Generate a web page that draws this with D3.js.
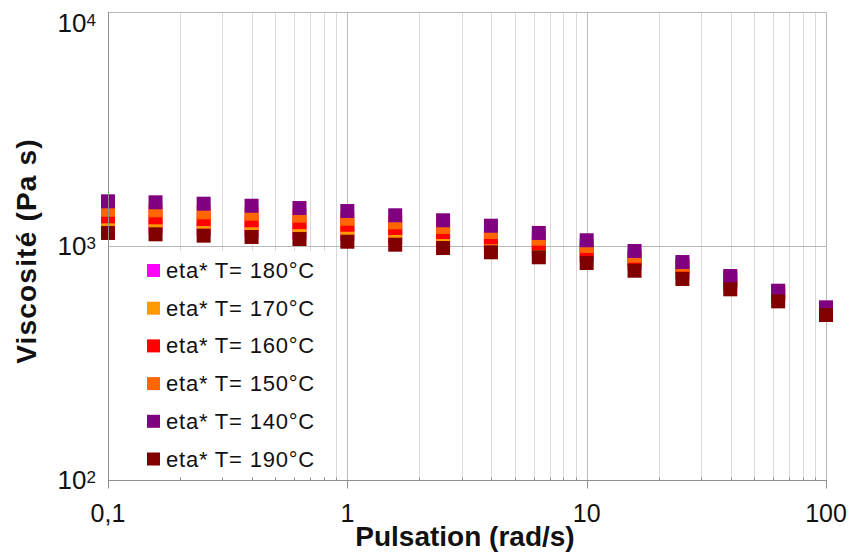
<!DOCTYPE html>
<html><head><meta charset="utf-8">
<script src="https://cdn.jsdelivr.net/npm/d3@7/dist/d3.min.js"></script>
<style>
body{margin:0;background:#fff}
svg{display:block}
text{font-family:"Liberation Sans",Arial,Helvetica,sans-serif;fill:#111}
</style>
</head><body>
<svg id="c" width="853" height="553"></svg>
<script>
// ---- data ----
const freq = [0.1, 0.158, 0.251, 0.398, 0.631, 1, 1.585, 2.512, 3.981, 6.31, 10, 15.85, 25.12, 39.81, 63.1, 100];
const eta180 = [1218, 1206, 1182, 1165, 1148, 1125, 1093, 1050, 1010, 961, 915, 846, 774, 688, 611, 522];
const eta170 = [1279, 1266, 1242, 1223, 1206, 1176, 1148, 1103, 1061, 1000, 952, 871, 805, 709, 624, 530];
const eta160 = [1339, 1326, 1304, 1288, 1266, 1233, 1194, 1148, 1089, 1030, 968, 889, 821, 719, 630, 535];
const eta150 = [1429, 1421, 1393, 1374, 1347, 1308, 1263, 1206, 1148, 1075, 1000, 909, 832, 730, 636, 541];
const eta140 = [1552, 1537, 1516, 1486, 1453, 1411, 1353, 1288, 1221, 1137, 1058, 952, 854, 744, 644, 547];
const eta190 = [1137, 1122, 1107, 1093, 1071, 1043, 1013, 980, 940, 895, 846, 784, 723, 653, 580, 507];
const seriesNames = ["eta* T= 180°C", "eta* T= 170°C", "eta* T= 160°C", "eta* T= 150°C", "eta* T= 140°C", "eta* T= 190°C"];
const seriesValues = [eta180, eta170, eta160, eta150, eta140, eta190];
const xTickValues = [0.1, 1, 10, 100];
const xTickLabels = ["0,1", "1", "10", "100"];
const yTickValues = [100, 1000, 10000];
const yTickExponents = ["2", "3", "4"];
const xTitle = "Pulsation (rad/s)";
const yTitle = "Viscosité (Pa s)";

// ---- styles ----
const colors = ["#FF00FF", "#FF9900", "#FF0000", "#FF6600", "#800080", "#800000"];

const svg = d3.select("#c");
const L = 108, R = 826, T = 12, B = 480;
const x = d3.scaleLog().domain([0.1, 100]).range([L, R]);
const y = d3.scaleLog().domain([100, 10000]).range([B, T]);
const px = v => Math.round(x(v)) + 0.5;
const py = v => Math.round(y(v)) + 0.5;

// minor vertical gridlines
const minorX = [];
[0.1, 1, 10].forEach(d => { for (let k = 2; k <= 9; k++) minorX.push(+(k * d).toPrecision(3)); });
svg.append("g").selectAll("line").data(minorX).join("line")
  .attr("x1", d => px(d)).attr("x2", d => px(d)).attr("y1", T).attr("y2", B)
  .attr("stroke", "#d9d9d9").attr("stroke-width", 1);
// major vertical gridlines
svg.append("g").selectAll("line").data([1, 10]).join("line")
  .attr("x1", d => px(d)).attr("x2", d => px(d)).attr("y1", T).attr("y2", B)
  .attr("stroke", "#b8b8b8").attr("stroke-width", 1);
// horizontal gridline
svg.append("g").selectAll("line").data([1000]).join("line")
  .attr("x1", L).attr("x2", R).attr("y1", d => py(d)).attr("y2", d => py(d))
  .attr("stroke", "#b8b8b8").attr("stroke-width", 1);
// plot border top/right
svg.append("path").attr("d", `M${L},${py(10000)}H${px(100)}V${B}`)
  .attr("fill", "none").attr("stroke", "#b8b8b8");

// markers
const markerSize = 14;
seriesValues.forEach((vals, i) => {
  svg.append("g").selectAll("rect").data(vals).join("rect")
    .attr("x", (d, j) => x(freq[j]) - markerSize / 2)
    .attr("y", d => y(d) - markerSize / 2)
    .attr("width", markerSize).attr("height", markerSize)
    .attr("fill", colors[i]);
});

// axes lines
svg.append("line").attr("x1", px(0.1)).attr("x2", px(0.1)).attr("y1", T).attr("y2", py(100))
  .attr("stroke", "#909090");
svg.append("line").attr("x1", L).attr("x2", R + 1).attr("y1", py(100)).attr("y2", py(100))
  .attr("stroke", "#909090");
// x major ticks outward
svg.append("g").selectAll("line").data(xTickValues).join("line")
  .attr("x1", d => px(d)).attr("x2", d => px(d)).attr("y1", py(100)).attr("y2", py(100) + 8)
  .attr("stroke", "#909090");
// x minor ticks inward
svg.append("g").selectAll("line").data(minorX).join("line")
  .attr("x1", d => px(d)).attr("x2", d => px(d)).attr("y1", py(100) - 3).attr("y2", py(100))
  .attr("stroke", "#909090");

// legend
const lg = svg.append("g");
lg.append("rect").attr("x", 136).attr("y", 251).attr("width", 196).attr("height", 226).attr("fill", "#fff");
seriesNames.forEach((name, i) => {
  const cy = 270.5 + i * 37.7;
  lg.append("rect").attr("x", 147).attr("y", cy - 6.5).attr("width", 13).attr("height", 13).attr("fill", colors[i]);
  lg.append("text").attr("x", 166).attr("y", cy + 7.5).attr("font-size", 22)
    .attr("letter-spacing", 0.8).text(name);
});

// x tick labels
svg.append("g").selectAll("text").data(xTickValues).join("text")
  .attr("x", d => x(d)).attr("y", 522).attr("text-anchor", "middle").attr("font-size", 25)
  .text((d, i) => xTickLabels[i]);

// y tick labels
const yl = svg.append("g").selectAll("text").data(yTickValues).join("text")
  .attr("x", 96).attr("y", d => Math.max(y(d) + 9, 32)).attr("text-anchor", "end").attr("font-size", 26);
yl.append("tspan").text("10");
yl.append("tspan").attr("font-size", 17).attr("dy", -6).text((d, i) => yTickExponents[i]);

// titles
svg.append("text").attr("x", 465).attr("y", 546).attr("text-anchor", "middle")
  .attr("font-size", 28).attr("font-weight", "bold").text(xTitle);
svg.append("text").attr("transform", "translate(36,251) rotate(-90)").attr("text-anchor", "middle")
  .attr("font-size", 28).attr("font-weight", "bold").attr("letter-spacing", 1.2).text(yTitle);
</script>
</body></html>
